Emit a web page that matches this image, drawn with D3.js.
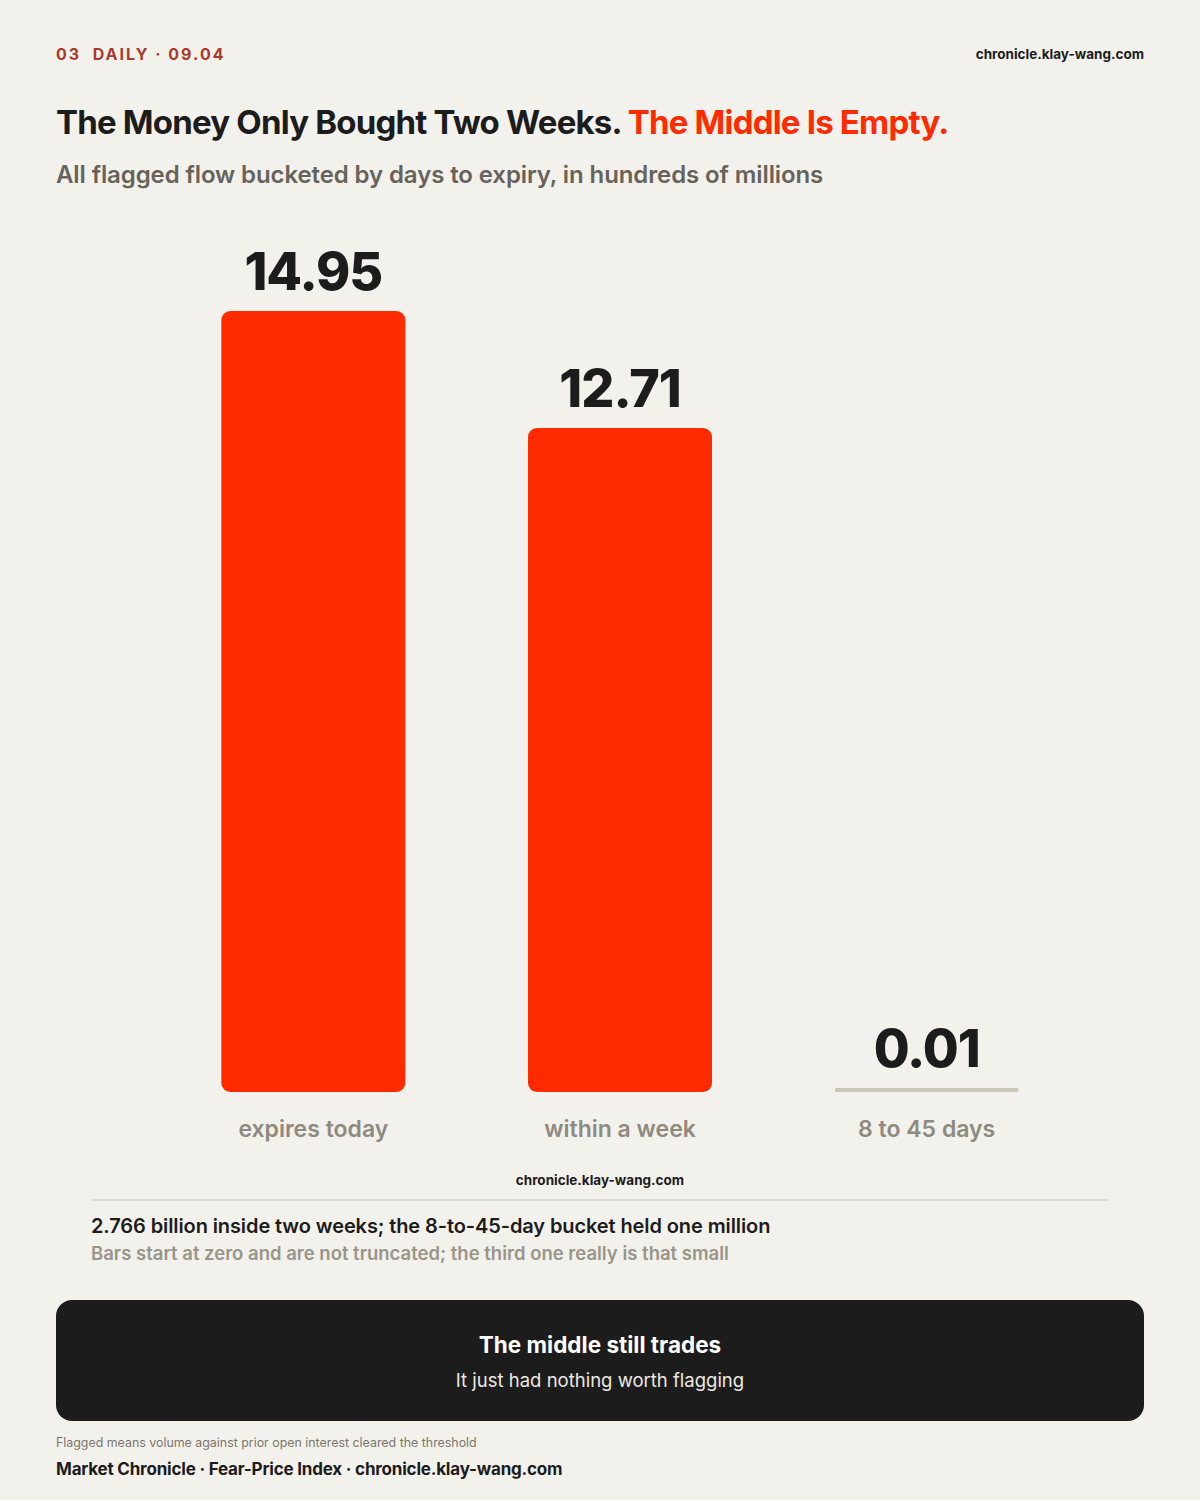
<!DOCTYPE html>
<html><head><meta charset="utf-8">
<script src="https://cdn.jsdelivr.net/npm/d3@7"></script>
<style>
html,body{margin:0;padding:0;background:#f3f1ec;}
svg{display:block;font-family:Inter,"Noto Sans",sans-serif;}
</style></head><body>
<svg id="c" width="1200" height="1500"></svg>
<script>
const categories = ["expires today", "within a week", "8 to 45 days"];
const values = [14.95, 12.71, 0.01];
const valueLabels = ["14.95", "12.71", "0.01"];

const svg = d3.select("#c");
const W = 1200, H = 1500;
svg.append("rect").attr("width", W).attr("height", H).attr("fill", "#f3f1ec");

// header
svg.append("text").attr("x", 56).attr("y", 60).attr("fill", "#a93a2c")
  .attr("font-size", 16).attr("font-weight", 700).attr("letter-spacing", 2)
  .attr("xml:space", "preserve").text("03  DAILY · 09.04");
svg.append("text").attr("x", 1144).attr("y", 59).attr("text-anchor", "end")
  .attr("fill", "#1c1c1c").attr("font-size", 13.5).attr("font-weight", 700)
  .text("chronicle.klay-wang.com");

const title = svg.append("text").attr("x", 56).attr("y", 134)
  .attr("font-size", 33).attr("font-weight", 700).attr("letter-spacing", -0.8);
title.append("tspan").attr("fill", "#1c1c1c").text("The Money Only Bought Two Weeks. ");
title.append("tspan").attr("fill", "#ff2a00").text("The Middle Is Empty.");

svg.append("text").attr("x", 56).attr("y", 183).attr("fill", "#67635a")
  .attr("font-size", 24).attr("font-weight", 600).attr("letter-spacing", -0.1)
  .text("All flagged flow bucketed by days to expiry, in hundreds of millions");

// chart
const base = 1092;
const x = d3.scaleBand().domain(categories).range([160, 1080]).paddingInner(0.4).paddingOuter(0.2);
const y = d3.scaleLinear().domain([0, 14.95]).range([base, 311]);

const g = svg.append("g");
categories.forEach((c, i) => {
  const v = values[i];
  const top = y(v);
  const h = base - top;
  if (h >= 8) {
    g.append("rect").attr("x", x(c)).attr("y", top).attr("width", x.bandwidth())
      .attr("height", h).attr("rx", 9).attr("fill", "#ff2a00");
  } else {
    g.append("rect").attr("x", x(c)).attr("y", base - 4).attr("width", x.bandwidth())
      .attr("height", 4).attr("rx", 2).attr("fill", "#cbc7ba");
  }
  const labTop = h >= 8 ? top : base - 4;
  g.append("text").attr("x", x(c) + x.bandwidth() / 2).attr("y", labTop - 21)
    .attr("text-anchor", "middle").attr("fill", "#1c1c1c").attr("font-size", 52)
    .attr("font-weight", 800).attr("letter-spacing", -1).text(valueLabels[i]);
  g.append("text").attr("x", x(c) + x.bandwidth() / 2).attr("y", 1137)
    .attr("text-anchor", "middle").attr("fill", "#8e8a7f").attr("font-size", 23)
    .attr("font-weight", 600).attr("letter-spacing", 0).text(c);
});

svg.append("text").attr("x", 600).attr("y", 1185).attr("text-anchor", "middle")
  .attr("fill", "#1c1c1c").attr("font-size", 13.5).attr("font-weight", 700)
  .text("chronicle.klay-wang.com");
svg.append("line").attr("x1", 91).attr("x2", 1109).attr("y1", 1200).attr("y2", 1200)
  .attr("stroke", "#d8d5cd").attr("stroke-width", 1.5);
svg.append("text").attr("x", 91).attr("y", 1233).attr("fill", "#1c1c1c")
  .attr("font-size", 20).attr("font-weight", 600).attr("letter-spacing", -0.1)
  .text("2.766 billion inside two weeks; the 8-to-45-day bucket held one million");
svg.append("text").attr("x", 91).attr("y", 1260).attr("fill", "#99958a")
  .attr("font-size", 18.5).attr("font-weight", 600).attr("letter-spacing", 0)
  .text("Bars start at zero and are not truncated; the third one really is that small");

// callout
svg.append("rect").attr("x", 56).attr("y", 1300).attr("width", 1088).attr("height", 121)
  .attr("rx", 16).attr("fill", "#1c1c1c");
svg.append("text").attr("x", 600).attr("y", 1353).attr("text-anchor", "middle")
  .attr("fill", "#ffffff").attr("font-size", 22.5).attr("font-weight", 700).attr("letter-spacing", 0)
  .text("The middle still trades");
svg.append("text").attr("x", 600).attr("y", 1387).attr("text-anchor", "middle")
  .attr("fill", "#ece9e2").attr("font-size", 18.5).attr("font-weight", 400)
  .text("It just had nothing worth flagging");

// footer
svg.append("text").attr("x", 56).attr("y", 1447).attr("fill", "#7a766d")
  .attr("font-size", 12.4).text("Flagged means volume against prior open interest cleared the threshold");
svg.append("text").attr("x", 56).attr("y", 1475).attr("fill", "#1c1c1c")
  .attr("font-size", 17).attr("font-weight", 700).attr("letter-spacing", -0.2)
  .text("Market Chronicle · Fear-Price Index · chronicle.klay-wang.com");
</script>
</body></html>
